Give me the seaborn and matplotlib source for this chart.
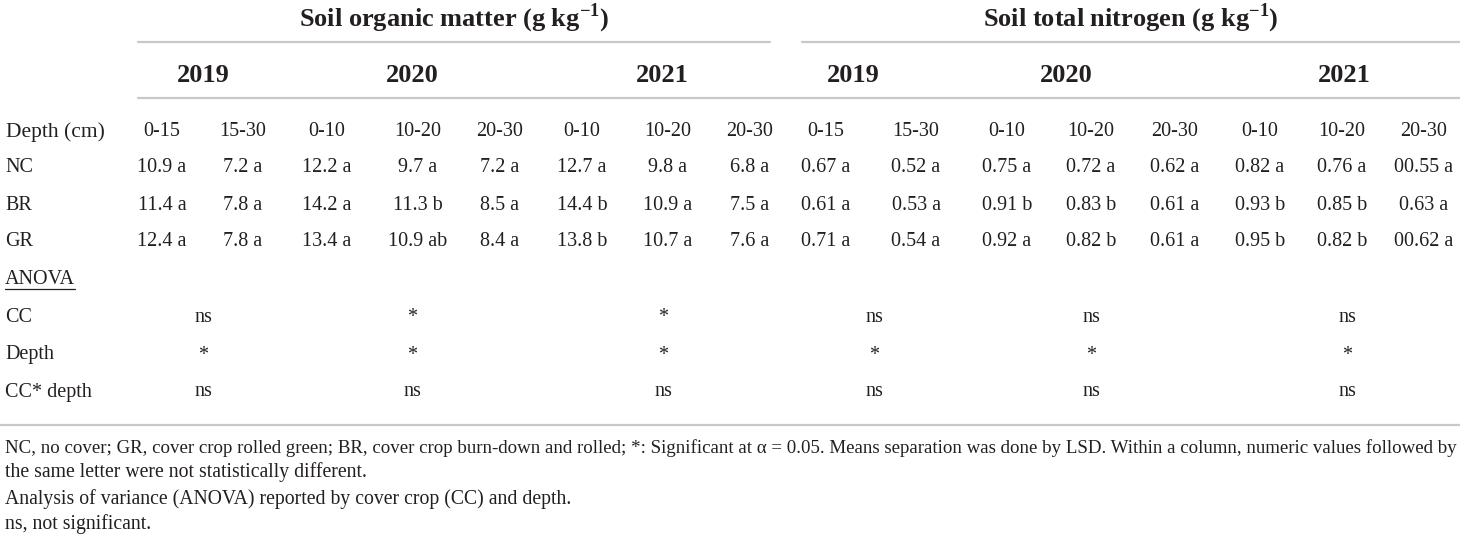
import matplotlib
matplotlib.use('Agg')
import matplotlib.pyplot as plt
import seaborn as sns

# Table content
groups = ['Soil organic matter (g kg$^{\\mathbf{-1}}$)', 'Soil total nitrogen (g kg$^{\\mathbf{-1}}$)']
years = ['2019', '2020', '2021', '2019', '2020', '2021']
depths = ['0-15', '15-30', '0-10', '10-20', '20-30', '0-10', '10-20', '20-30',
          '0-15', '15-30', '0-10', '10-20', '20-30', '0-10', '10-20', '20-30']
treatments = ['NC', 'BR', 'GR']

nc_values = ['10.9 a', '7.2 a', '12.2 a', '9.7 a', '7.2 a', '12.7 a', '9.8 a', '6.8 a',
             '0.67 a', '0.52 a', '0.75 a', '0.72 a', '0.62 a', '0.82 a', '0.76 a', '00.55 a']
br_values = ['11.4 a', '7.8 a', '14.2 a', '11.3 b', '8.5 a', '14.4 b', '10.9 a', '7.5 a',
             '0.61 a', '0.53 a', '0.91 b', '0.83 b', '0.61 a', '0.93 b', '0.85 b', '0.63 a']
gr_values = ['12.4 a', '7.8 a', '13.4 a', '10.9 ab', '8.4 a', '13.8 b', '10.7 a', '7.6 a',
             '0.71 a', '0.54 a', '0.92 a', '0.82 b', '0.61 a', '0.95 b', '0.82 b', '00.62 a']

anova_terms = ['CC', 'Depth', 'CC* depth']
anova_cc = ['ns', '*', '*', 'ns', 'ns', 'ns']
anova_depth = ['*', '*', '*', '*', '*', '*']
anova_ccdepth = ['ns', 'ns', 'ns', 'ns', 'ns', 'ns']

footnotes = [
    'NC, no cover; GR, cover crop rolled green; BR, cover crop burn-down and rolled; *: Significant at \u03b1 = 0.05. '
    'Means separation was done by LSD. Within a column, numeric values followed by',
    'the same letter were not statistically different.',
    'Analysis of variance (ANOVA) reported by cover crop (CC) and depth.',
    'ns, not significant.',
]

# Layout (pixel coordinates)
col_x = [162, 243, 327, 418, 500, 582, 668, 750, 826, 916, 1007, 1091, 1175, 1260, 1342, 1424]
year_x = [203, 412, 662, 853, 1066, 1344]
anova_x = [203, 412, 663, 874, 1091, 1347]
group_x = [454, 1131]
row_y = {'depth': 132, 'NC': 167, 'BR': 205, 'GR': 242, 'ANOVA': 280,
         'CC': 317, 'Depth': 355, 'CC* depth': 392}
foot_y = [448, 472, 499, 524]

sns.set_theme(style='white')
plt.rcParams['font.family'] = ['Liberation Serif', 'DejaVu Serif']
plt.rcParams['mathtext.fontset'] = 'custom'
plt.rcParams['mathtext.rm'] = 'Liberation Serif'
plt.rcParams['mathtext.bf'] = 'Liberation Serif:bold'

txt = '#231f20'
rule = '#c8c8c8'
body = 14.5
head = 19

fig = plt.figure(figsize=(14.6, 5.36), dpi=100)
ax = fig.add_axes([0, 0, 1, 1])
ax.set_xlim(0, 1460)
ax.set_ylim(536, 0)
ax.axis('off')

# rules
ax.plot([138, 770], [42, 42], color=rule, lw=1.6)
ax.plot([802, 1460], [42, 42], color=rule, lw=1.6)
ax.plot([138, 1460], [98, 98], color=rule, lw=1.6)
ax.plot([0, 1460], [425, 425], color=rule, lw=1.6)

for g, x in zip(groups, group_x):
    ax.text(x, 18, g, ha='center', va='center', fontsize=head, fontweight='bold', color=txt)
for y, x in zip(years, year_x):
    ax.text(x, 75, y, ha='center', va='center', fontsize=head, fontweight='bold', color=txt)

ax.text(6, row_y['depth'], 'Depth (cm)', ha='left', va='center', fontsize=15.5, color=txt)
for d, x in zip(depths, col_x):
    ax.text(x, row_y['depth'], d, ha='center', va='center', fontsize=body, color=txt)

for name, vals in zip(treatments, [nc_values, br_values, gr_values]):
    ax.text(5, row_y[name], name, ha='left', va='center', fontsize=body, color=txt)
    for v, x in zip(vals, col_x):
        ax.text(x, row_y[name], v, ha='center', va='center', fontsize=body, color=txt)

t = ax.text(5, row_y['ANOVA'], 'ANOVA', ha='left', va='center', fontsize=body, color=txt)
fig.canvas.draw()
bb = t.get_window_extent().transformed(ax.transData.inverted())
ax.plot([bb.x0, bb.x1], [bb.y0 - 1, bb.y0 - 1], color=txt, lw=0.9)

for name, vals in zip(anova_terms, [anova_cc, anova_depth, anova_ccdepth]):
    ax.text(5, row_y[name], name, ha='left', va='center', fontsize=body, color=txt)
    for v, x in zip(vals, anova_x):
        ax.text(x, row_y[name], v, ha='center', va='center', fontsize=body, color=txt)

for i, (line, y) in enumerate(zip(footnotes, foot_y)):
    ax.text(5, y, line, ha='left', va='center', fontsize=13.6 if i == 0 else 14.2, color=txt)

fig.savefig('out.png', dpi=100)
